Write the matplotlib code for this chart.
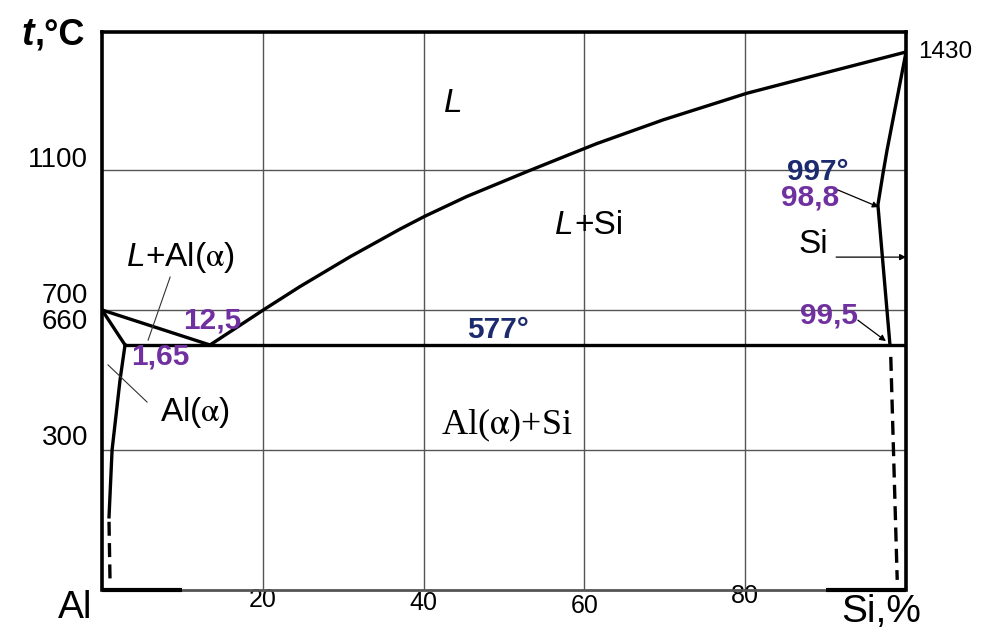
import matplotlib
matplotlib.use('Agg')
import matplotlib.pyplot as plt

plt.rcParams['font.family'] = ['Liberation Sans', 'DejaVu Sans']
plt.rcParams['mathtext.fontset'] = 'stix'

# линии диаграммы Al-Si (x - % Si, y - температура)
liq_al_x = [0, 13.43]
liq_al_y = [700, 600]
sol_al_x = [0, 2.86]
sol_al_y = [700, 600]
solvus_x = [2.86, 2.24, 1.25, 0.87]
solvus_y = [600, 500, 300, 109]
solvus_dash_x = [0.87, 1.0]
solvus_dash_y = [95, -80]
liq_si_x = [13.43, 20.06, 24.63, 30.85, 37.06, 40.17, 45.35, 52.82, 57.8, 61.5, 69.78, 80.19, 90.55, 100]
liq_si_y = [600, 700, 767, 852, 931, 968, 1024, 1095, 1141, 1175, 1243, 1319, 1381, 1437]
sol_si_x = [100, 97.64, 97.14, 96.5, 98.0]
sol_si_y = [1437, 1157, 1091, 1000, 600]
sol_si_dash_x = [98.1, 98.9]
sol_si_dash_y = [566, -71]
eut_x = [2.86, 100]
eut_y = [600, 600]

grid_x = [20, 40, 60, 80]
grid_y = [1100, 700, 300]
xtick_labels = ['20', '40', '60', '80']
xtick_y = [-128, -137, -146, -117]

purple = '#7030a0'
navy = '#1c2a6e'
alpha = r'$\mathrm{\alpha}$'

fig = plt.figure(figsize=(9.81, 6.33), dpi=100)
ax = fig.add_axes([0.104, 0.0679, 0.8196, 0.8815])
ax.set_xlim(0, 100)
ax.set_ylim(-100, 1494)
ax.set_xticks([])
ax.set_yticks([])
for s in ['left', 'top', 'right']:
    ax.spines[s].set_linewidth(2.6)
ax.spines['bottom'].set_visible(False)

# сетка
for gx in grid_x:
    ax.axvline(gx, color='#555555', lw=1.0, zorder=1)
for gy in grid_y:
    ax.axhline(gy, color='#555555', lw=1.0, zorder=1)

# нижняя граница: толстая по краям, тонкая в середине
ax.axhline(-100, xmin=0.1, xmax=0.9, color='#555555', lw=2.0, clip_on=False, zorder=5)
ax.axhline(-100, xmin=0, xmax=0.1, color='k', lw=3.0, clip_on=False, zorder=5, solid_capstyle='butt')
ax.axhline(-100, xmin=0.9, xmax=1, color='k', lw=3.0, clip_on=False, zorder=5, solid_capstyle='butt')

lw = 2.4
ax.plot(liq_al_x, liq_al_y, color='k', lw=lw)
ax.plot(sol_al_x, sol_al_y, color='k', lw=lw)
ax.plot(solvus_x, solvus_y, color='k', lw=lw)
ax.plot(solvus_dash_x, solvus_dash_y, color='k', lw=lw, dashes=(4.2, 2.2))
ax.plot(liq_si_x, liq_si_y, color='k', lw=lw, solid_joinstyle='round')
ax.plot(sol_si_x, sol_si_y, color='k', lw=lw)
ax.plot(sol_si_dash_x, sol_si_dash_y, color='k', lw=lw, dashes=(4.2, 2.2))
ax.plot(eut_x, eut_y, color='k', lw=lw)

# подписи оси
fig.text(0.035, 0.945, 't', fontsize=27, fontweight='bold', style='italic', ha='right', va='center')
fig.text(0.035, 0.945, ',°C', fontsize=26, fontweight='bold', ha='left', va='center')
ax.text(-1.7, 1129, '1100', fontsize=20, ha='right', va='center')
ax.text(-1.7, 740, '700', fontsize=20, ha='right', va='center')
ax.text(-1.7, 666, '660', fontsize=20, ha='right', va='center')
ax.text(-1.7, 334, '300', fontsize=20, ha='right', va='center')
ax.text(101.5, 1437, '1430', fontsize=17.5, ha='left', va='center')
for gx, lab, ty in zip(grid_x, xtick_labels, xtick_y):
    ax.text(gx, ty, lab, fontsize=18, ha='center', va='center', clip_on=False)
ax.text(-3.4, -150, 'Al', fontsize=28, ha='center', va='center')
ax.text(96.9, -163, 'Si,%', fontsize=28, ha='center', va='center')

# области
ax.text(43.7, 1291, 'L', fontsize=24, style='italic', ha='center', va='center')
ax.text(58.7, 940, 'L', fontsize=24, style='italic', ha='right', va='center')
ax.text(58.7, 940, '+Si', fontsize=24, ha='left', va='center')
ax.text(5.4, 849, 'L', fontsize=24, style='italic', ha='right', va='center')
ax.text(5.4, 849, '+Al(' + alpha + ')', fontsize=24, ha='left', va='center')
ax.text(11.6, 406, 'Al(' + alpha + ')', fontsize=24, ha='center', va='center')
ax.text(50.4, 371, 'Al(' + alpha + ')+Si', fontsize=26, family='Liberation Serif', ha='center', va='center')
ax.text(88.5, 886, 'Si', fontsize=24, ha='center', va='center')

# значения
ax.text(49.3, 643, '577°', fontsize=21.5, fontweight='bold', color=navy, ha='center', va='center')
ax.text(89.0, 1094, '997°', fontsize=21.5, fontweight='bold', color=navy, ha='center', va='center')
ax.text(13.7, 671, '12,5', fontsize=21.5, fontweight='bold', color=purple, ha='center', va='center')
ax.text(7.3, 566, '1,65', fontsize=21.5, fontweight='bold', color=purple, ha='center', va='center')
ax.text(88.0, 1020, '98,8', fontsize=21.5, fontweight='bold', color=purple, ha='center', va='center')
ax.text(90.4, 683, '99,5', fontsize=21.5, fontweight='bold', color=purple, ha='center', va='center')

# выноски
ax.plot([8.47, 5.73], [794, 614], color='#333333', lw=0.8)
ax.plot([5.6, 0.75], [437, 543], color='#333333', lw=0.8)
arr = dict(arrowstyle='-|>', color='k', lw=0.9, mutation_scale=9, shrinkA=0, shrinkB=0)
ax.annotate('', xy=(96.6, 994), xytext=(91.5, 1043), arrowprops=arr)
ax.annotate('', xy=(100, 851), xytext=(91.3, 851), arrowprops=arr)
ax.annotate('', xy=(97.5, 611), xytext=(94.0, 671), arrowprops=arr)

plt.savefig('out.png', dpi=100)
